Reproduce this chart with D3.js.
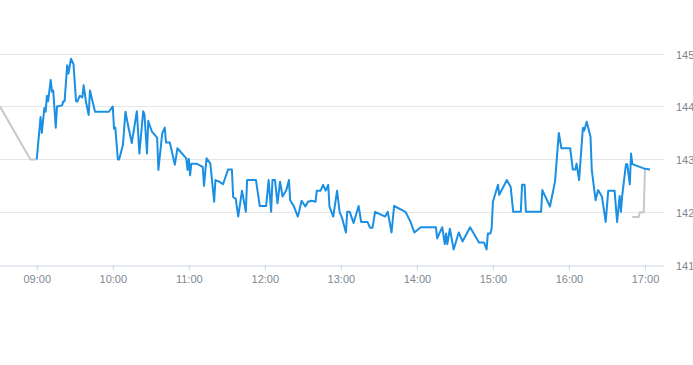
<!DOCTYPE html>
<html>
<head>
<meta charset="utf-8">
<script src="https://cdn.jsdelivr.net/npm/d3@7"></script>
<style>
  html, body { margin: 0; padding: 0; background: #fff; }
  svg { display: block; }
  text { font-family: "Liberation Sans", Arial, sans-serif; }
</style>
</head>
<body>
<svg id="chart" width="693" height="365"></svg>
<script>
// ---- data ----
const grayStartTimes = ["08:31", "08:55", "09:00"];
const grayStartValues = [144.0, 143.0, 143.0];

const grayEndTimes = ["16:50", "16:55", "16:56", "16:59", "17:00"];
const grayEndValues = [141.91, 141.91, 142.0, 142.0, 142.83];

const blueTimes = [
  "09:00","09:03","09:04","09:06","09:07","09:08","09:09","09:11","09:12","09:13",
  "09:15","09:16","09:20","09:21","09:22","09:24","09:25","09:27","09:29","09:31",
  "09:32","09:34","09:36","09:37","09:39","09:41","09:42","09:43","09:46","09:57",
  "10:00","10:01","10:02","10:04","10:05","10:08","10:10","10:12","10:15","10:19",
  "10:21","10:24","10:25","10:27","10:28","10:29","10:31","10:35","10:36","10:39",
  "10:41","10:42","10:45","10:49","10:51","10:58","10:59","11:00","11:01","11:02",
  "11:06","11:11","11:12","11:14","11:17","11:20","11:21","11:24","11:27","11:31",
  "11:34","11:35","11:37","11:39","11:42","11:45","11:46","11:53","11:56","12:01",
  "12:03","12:05","12:06","12:08","12:10","12:12","12:14","12:17","12:19","12:20",
  "12:23","12:26","12:27","12:29","12:32","12:34","12:37","12:40","12:41","12:44",
  "12:46","12:48","12:50","12:51","12:54","12:57","12:59","13:01","13:04","13:05",
  "13:07","13:10","13:14","13:16","13:21","13:23","13:25","13:27","13:35","13:37",
  "13:40","13:42","13:51","13:55","13:58","14:03","14:15","14:16","14:20","14:22",
  "14:23","14:24","14:26","14:29","14:33","14:36","14:42","14:49","14:53","14:55",
  "14:56","14:58","14:59","15:00","15:04","15:05","15:11","15:14","15:16","15:22",
  "15:23","15:25","15:26","15:38","15:39","15:45","15:49","15:52","15:54","16:01",
  "16:03","16:05","16:06","16:08","16:11","16:12","16:14","16:17","16:18","16:21",
  "16:23","16:26","16:29","16:31","16:36","16:38","16:40","16:41","16:42","16:45",
  "16:46","16:48","16:49","16:50","16:59","17:04"
];
const blueValues = [
  143.0,143.8,143.5,143.97,143.9,144.2,144.1,144.5,144.28,144.3,
  143.6,144.0,144.02,144.1,144.1,144.78,144.62,144.9,144.8,144.1,
  144.09,144.2,144.17,144.4,144.07,143.84,144.3,144.2,143.9,143.9,
  144.0,143.58,143.6,143.0,143.0,143.27,143.9,143.65,143.31,143.91,
  143.11,143.91,143.85,143.11,143.73,143.65,143.52,143.41,142.8,143.49,
  143.6,143.32,143.32,142.9,143.21,143.02,142.8,143.01,142.7,142.92,
  142.92,142.86,142.5,143.02,142.92,142.2,142.61,142.58,142.53,142.81,
  142.81,142.29,142.26,141.92,142.41,142.01,142.61,142.61,142.12,142.12,
  142.61,142.01,142.61,142.61,142.17,142.58,142.3,142.42,142.61,142.23,
  142.11,141.92,142.01,142.22,142.11,142.2,142.22,142.2,142.41,142.41,
  142.52,142.41,142.52,142.11,141.92,142.41,142.01,141.89,141.62,142.01,
  142.01,141.8,142.12,141.82,141.82,141.71,141.71,142.01,141.92,142.01,
  141.62,142.12,142.01,141.82,141.62,141.72,141.72,141.51,141.72,141.4,
  141.6,141.4,141.69,141.3,141.62,141.45,141.72,141.43,141.43,141.3,
  141.6,141.6,141.7,142.2,142.52,142.33,142.61,142.48,142.01,142.01,
  142.52,142.52,142.01,142.01,142.42,142.11,142.58,143.5,143.21,143.21,
  142.81,142.81,142.92,142.61,143.6,143.54,143.71,143.43,142.8,142.23,
  142.42,142.3,141.82,142.41,142.41,141.82,142.31,142.01,142.31,142.91,
  142.91,142.53,143.11,142.91,142.83,142.81
];

const yTicks = [141, 142, 143, 144, 145];
const xTickLabels = ["09:00","10:00","11:00","12:00","13:00","14:00","15:00","16:00","17:00"];
const xDomain = ["08:31", "17:15"];

// ---- drawing ----
const parse = d3.timeParse("%H:%M");
const svg = d3.select("#chart");

const x = d3.scaleTime().domain(xDomain.map(parse)).range([0, 664]);
const y = d3.scaleLinear().domain([141, 145]).range([265.3, 53.5]);

// gridlines
svg.append("g")
  .selectAll("line")
  .data(yTicks.filter(v => v !== 141))
  .join("line")
  .attr("x1", 0).attr("x2", 664)
  .attr("y1", d => Math.round(y(d)) + 0.5).attr("y2", d => Math.round(y(d)) + 0.5)
  .attr("stroke", "#e6e6e6").attr("stroke-width", 1);

// right y labels
svg.append("g")
  .selectAll("text")
  .data(yTicks)
  .join("text")
  .attr("x", 676)
  .attr("y", d => y(d) + 5)
  .attr("fill", "#7d858d")
  .attr("font-size", 11)
  .text(d => d);

// x axis
const xAxis = d3.axisBottom(x)
  .tickValues(xTickLabels.map(parse))
  .tickFormat(d3.timeFormat("%H:%M"))
  .tickSize(5)
  .tickSizeOuter(0)
  .tickPadding(5);

const gx = svg.append("g")
  .attr("transform", `translate(0,${Math.round(y(141)) + 0.5})`)
  .call(xAxis);
gx.select(".domain").attr("stroke", "#ccd6eb");
gx.selectAll(".tick line").attr("stroke", "#ccd6eb");
gx.selectAll(".tick text")
  .attr("fill", "#7d8893")
  .attr("font-size", 11)
  .attr("font-family", "'Liberation Sans', Arial, sans-serif");

// lines
const line = d3.line()
  .x(d => x(d[0]))
  .y(d => y(d[1]));

const zip = (ts, vs) => ts.map((t, i) => [parse(t), vs[i]]);

svg.append("path")
  .datum(zip(grayStartTimes, grayStartValues))
  .attr("d", line)
  .attr("fill", "none")
  .attr("stroke", "#c3c9ce")
  .attr("stroke-width", 2);

svg.append("path")
  .datum(zip(grayEndTimes, grayEndValues))
  .attr("d", line)
  .attr("fill", "none")
  .attr("stroke", "#c3c9ce")
  .attr("stroke-width", 2);

svg.append("path")
  .datum(zip(blueTimes, blueValues))
  .attr("d", line)
  .attr("fill", "none")
  .attr("stroke", "#1a8fe3")
  .attr("stroke-width", 2)
  .attr("stroke-linejoin", "round");
</script>
</body>
</html>
